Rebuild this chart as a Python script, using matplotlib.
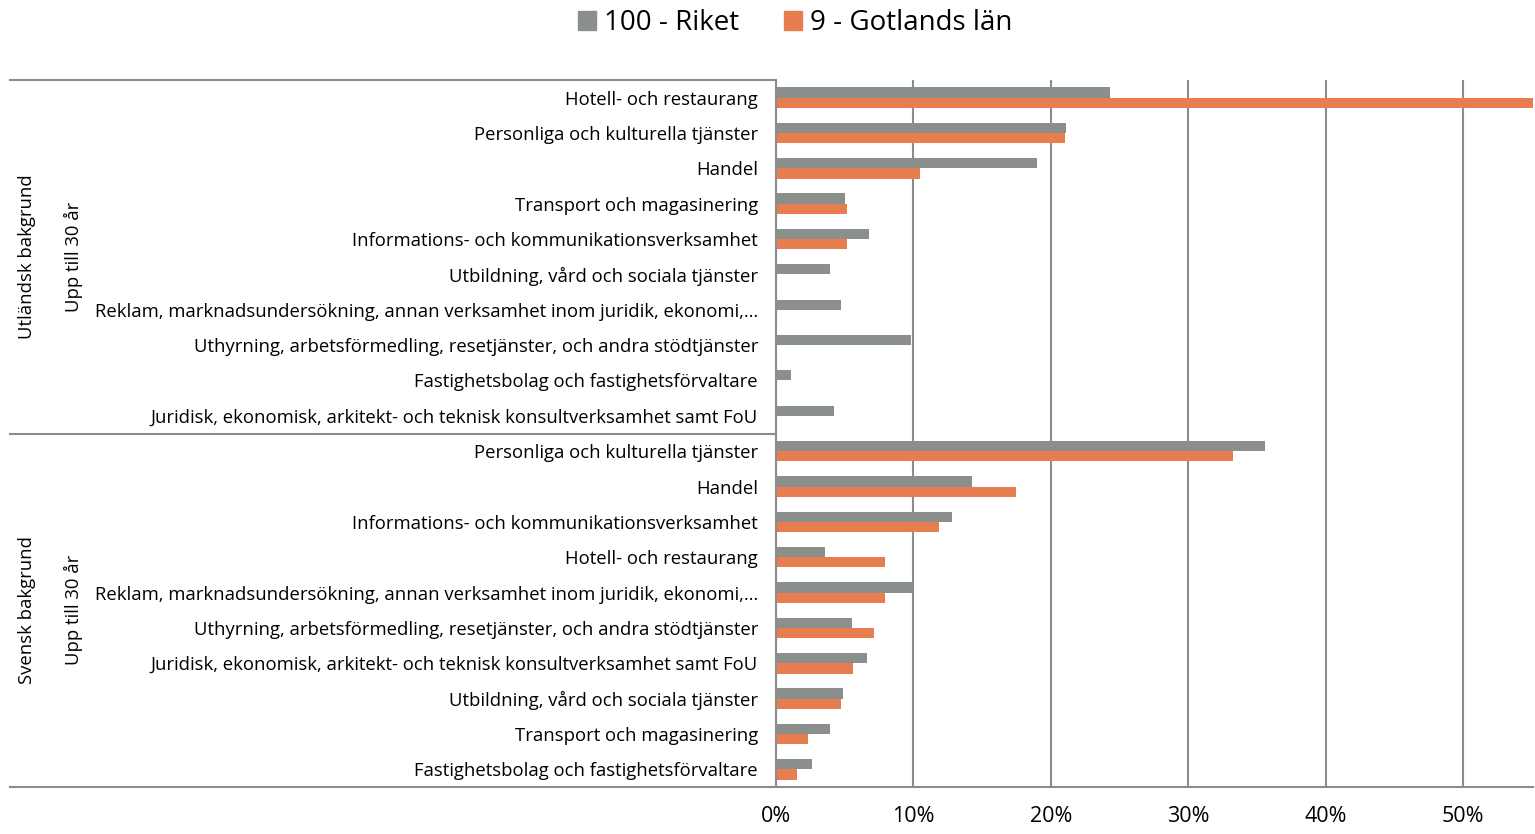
import matplotlib.pyplot as plt
import matplotlib.transforms as mtransforms
from matplotlib.lines import Line2D
from matplotlib.patches import Patch
import numpy as np

plt.rcParams['font.family'] = ['Open Sans', 'DejaVu Sans']

# categories, top to bottom
categories = [
    "Hotell- och restaurang",
    "Personliga och kulturella tjänster",
    "Handel",
    "Transport och magasinering",
    "Informations- och kommunikationsverksamhet",
    "Utbildning, vård och sociala tjänster",
    "Reklam, marknadsundersökning, annan verksamhet inom juridik, ekonomi,…",
    "Uthyrning, arbetsförmedling, resetjänster, och andra stödtjänster",
    "Fastighetsbolag och fastighetsförvaltare",
    "Juridisk, ekonomisk, arkitekt- och teknisk konsultverksamhet samt FoU",
    "Personliga och kulturella tjänster",
    "Handel",
    "Informations- och kommunikationsverksamhet",
    "Hotell- och restaurang",
    "Reklam, marknadsundersökning, annan verksamhet inom juridik, ekonomi,…",
    "Uthyrning, arbetsförmedling, resetjänster, och andra stödtjänster",
    "Juridisk, ekonomisk, arkitekt- och teknisk konsultverksamhet samt FoU",
    "Utbildning, vård och sociala tjänster",
    "Transport och magasinering",
    "Fastighetsbolag och fastighetsförvaltare",
]
groups = ["Utländsk bakgrund", "Svensk bakgrund"]
subgroups = ["Upp till 30 år", "Upp till 30 år"]

riket = [24.3, 21.1, 19.0, 5.0, 6.8, 3.9, 4.7, 9.8, 1.1, 4.2,
         35.6, 14.3, 12.8, 3.6, 10.0, 5.5, 6.6, 4.9, 3.9, 2.6]
gotland = [58.0, 21.0, 10.5, 5.2, 5.2, 0, 0, 0, 0, 0,
           33.3, 17.5, 11.9, 7.9, 7.9, 7.1, 5.6, 4.7, 2.3, 1.5]

c_gray = '#8B8F8C'
c_orange = '#E87D4F'
line_c = '#8C8C8C'

fig = plt.figure(figsize=(15.35, 8.34), dpi=100)
ax = fig.add_axes([776 / 1535, 47 / 834, 757 / 1535, 707 / 834])

y = np.arange(len(categories))
h = 0.29
ax.barh(y - h / 2, riket, height=h, color=c_gray, label="100 - Riket")
ax.barh(y + h / 2, gotland, height=h, color=c_orange, label="9 - Gotlands län")

ax.set_ylim(len(categories) - 0.5, -0.5)
ax.set_xlim(0, 55.1)
ax.set_xticks(np.arange(0, 60, 10))
ax.set_xticklabels([f"{v}%" for v in range(0, 60, 10)], fontsize=15.5)
ax.set_yticks(y)
ax.set_yticklabels(categories, fontsize=13.3)
ax.tick_params(axis='y', length=0, pad=13)
ax.tick_params(axis='x', length=0, pad=14)
ax.grid(axis='x', color=line_c, linewidth=1.5)
ax.set_axisbelow(True)
for s in ['top', 'right', 'bottom']:
    ax.spines[s].set_visible(False)
ax.spines['left'].set_color(line_c)
ax.spines['left'].set_linewidth(1.5)

# group separators and labels on the left
tr = mtransforms.blended_transform_factory(fig.transFigure, ax.transData)
for yb in [-0.5, 9.5]:
    fig.add_artist(Line2D([10 / 1535, 776 / 1535], [yb, yb], transform=tr,
                          color=line_c, linewidth=1.5))
fig.add_artist(Line2D([10 / 1535, 1533 / 1535], [19.5, 19.5], transform=tr,
                      color=line_c, linewidth=1.5))
for i, (g, sg) in enumerate(zip(groups, subgroups)):
    yc = i * 10 + 4.5
    fig.text(27 / 1535, yc, g, transform=tr, rotation=90, ha='center',
             va='center', fontsize=13.3)
    fig.text(73 / 1535, yc, sg, transform=tr, rotation=90, ha='center',
             va='center', fontsize=13.3)

handles = [Patch(color=c_gray), Patch(color=c_orange)]
fig.legend(handles, ["100 - Riket", "9 - Gotlands län"], loc='center',
           bbox_to_anchor=(795 / 1535, 1 - 23 / 834), ncol=2, frameon=False,
           fontsize=20, handlelength=0.65, handleheight=0.65, handletextpad=0.3,
           columnspacing=1.6)

fig.savefig('out.png', dpi=100)
